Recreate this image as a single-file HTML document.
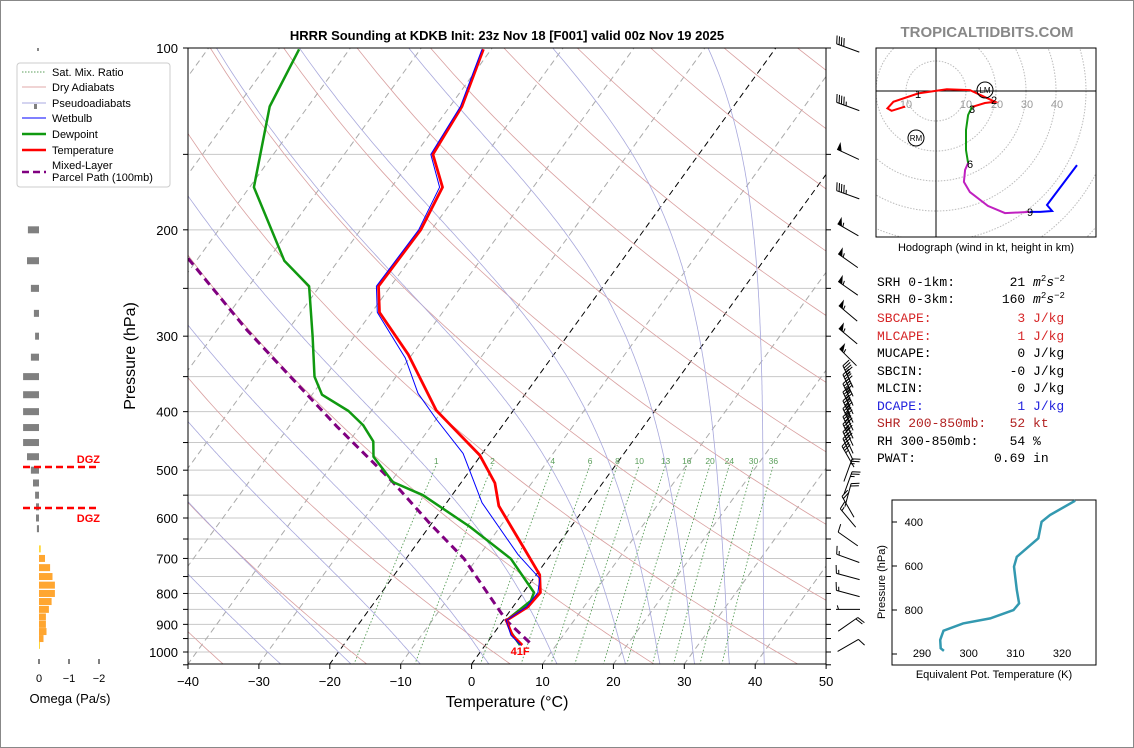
<!DOCTYPE html>
<html><head><meta charset="utf-8"><style>
html,body{margin:0;padding:0;background:#fff;}
svg{display:block;font-family:"Liberation Sans",sans-serif;}
</style></head><body>
<svg id="fig" width="1134" height="748" viewBox="0 0 1134 748" xmlns="http://www.w3.org/2000/svg">
<rect x="0.5" y="0.5" width="1133" height="747" fill="#fff" stroke="#888"/>
<defs><clipPath id="mainclip"><rect x="188" y="48" width="638" height="616"/></clipPath>
<clipPath id="hodoclip"><rect x="876" y="48" width="220" height="189"/></clipPath></defs>
<text x="507" y="40" text-anchor="middle" font-size="13" font-weight="bold">HRRR Sounding at KDKB Init: 23z Nov 18 [F001] valid 00z Nov 19 2025</text>
<text x="987" y="37" text-anchor="middle" font-size="15" font-weight="bold" fill="#888">TROPICALTIDBITS.COM</text>
<g id="bg" clip-path="url(#mainclip)"></g>
<g id="series" clip-path="url(#mainclip)"></g>
<g id="axes"></g>
<g id="barbs"></g>
<g id="omega"></g>
<g id="legend">
<rect x="17" y="63" width="153" height="124" rx="3" fill="#fff" stroke="#ccc"/>
<line x1="22" y1="72" x2="46" y2="72" stroke="#5a9e5a" stroke-dasharray="1.5,1.5"/><text x="52" y="76" font-size="11">Sat. Mix. Ratio</text>
<line x1="22" y1="87" x2="46" y2="87" stroke="#e0a8a8"/><text x="52" y="91" font-size="11">Dry Adiabats</text>
<line x1="22" y1="103" x2="46" y2="103" stroke="#a8a8e0"/><rect x="34" y="104" width="3" height="5" fill="#808080"/><text x="52" y="107" font-size="11">Pseudoadiabats</text>
<line x1="22" y1="118" x2="46" y2="118" stroke="#0000ff"/><text x="52" y="122" font-size="11">Wetbulb</text>
<line x1="22" y1="134" x2="46" y2="134" stroke="#109910" stroke-width="2.5"/><text x="52" y="138" font-size="11">Dewpoint</text>
<line x1="22" y1="150" x2="46" y2="150" stroke="#ff0000" stroke-width="2.5"/><text x="52" y="154" font-size="11">Temperature</text>
<line x1="22" y1="172" x2="46" y2="172" stroke="#800080" stroke-width="2.5" stroke-dasharray="7,4"/><text x="52" y="169" font-size="11">Mixed-Layer</text><text x="52" y="181" font-size="11">Parcel Path (100mb)</text>
</g>
<g id="hodo"></g>
<g id="stats" font-family="'Liberation Mono',monospace" font-size="13">
<text x="877" y="286" xml:space="preserve">SRH 0-1km:       21 <tspan font-style="italic">m</tspan><tspan font-size="9" dy="-5">2</tspan><tspan font-style="italic" dy="5">s</tspan><tspan font-size="9" dy="-5">−2</tspan></text>
<text x="877" y="303" xml:space="preserve">SRH 0-3km:      160 <tspan font-style="italic">m</tspan><tspan font-size="9" dy="-5">2</tspan><tspan font-style="italic" dy="5">s</tspan><tspan font-size="9" dy="-5">−2</tspan></text>
<text x="877" y="322" xml:space="preserve" fill="#d62728">SBCAPE:           3 J/kg</text>
<text x="877" y="340" xml:space="preserve" fill="#d62728">MLCAPE:           1 J/kg</text>
<text x="877" y="357" xml:space="preserve">MUCAPE:           0 J/kg</text>
<text x="877" y="375" xml:space="preserve">SBCIN:           -0 J/kg</text>
<text x="877" y="392" xml:space="preserve">MLCIN:            0 J/kg</text>
<text x="877" y="410" xml:space="preserve" fill="#2222dd">DCAPE:            1 J/kg</text>
<text x="877" y="427" xml:space="preserve" fill="#b22222">SHR 200-850mb:   52 kt</text>
<text x="877" y="445" xml:space="preserve">RH 300-850mb:    54 %</text>
<text x="877" y="462" xml:space="preserve">PWAT:          0.69 in</text>
</g>
<g id="thetae"></g>
</svg>
<script>
// ---- data ----
const tempP = [100.5,125,150,170,200,248,274,322,398,472,525,573,675,745,797,842,887,938,974];
const tempT = [-61.1,-58.3,-57.5,-52.8,-51.5,-51.7,-48.9,-40.5,-30.9,-20.2,-15.2,-12.3,-4.3,0.5,2.4,2.1,0.45,2.8,5.2];
const dewP = [100.5,125,170,225,248,300,350,375,399,421,448,475,523,550,620,701,797,823,887,929,974];
const dewT = [-87.1,-85.4,-79.4,-67.6,-61.5,-55.9,-51.5,-48.6,-43.2,-39.7,-36.6,-35.0,-29.7,-24.1,-14.3,-5.2,1.5,1.9,0.45,2.4,4.9];
const wbP = [100.5,125,150,170,200,248,274,326,373,413,469,566,690,756,797,842,887,938,974];
const wbT = [-61.3,-58.5,-57.8,-53.2,-51.8,-52.0,-49.2,-40.6,-35.2,-29.8,-22.7,-15.0,-4.6,0.9,2.05,1.9,0.45,2.6,5.0];
const parP = [223,293,423,523,609,701,887,972];
const parT = [-81.4,-65.8,-43.3,-29.7,-20.6,-11.8,0.45,6.5];
const mixW = [1,2,4,6,8,10,13,16,20,24,30,36];
const omegaP = [200,225,250,275,300,325,350,375,400,425,450,475,500,525,550,575,600,625,675,700,725,750,775,800,825,850,875,900,925,950,975];
const omegaV = [0.37,0.4,0.27,0.17,0.13,0.27,0.53,0.53,0.53,0.53,0.53,0.4,0.27,0.2,0.13,0.1,0.1,0.07,-0.06,-0.2,-0.37,-0.45,-0.53,-0.53,-0.42,-0.33,-0.23,-0.23,-0.25,-0.15,-0.02];
const windP = [100,125,150,175,200,225,250,275,300,325,350,362,375,387,400,412,425,437,450,462,475,500,525,550,575,600,650,700,750,800,850,900,975];
const windS = [40,45,50,45,55,55,55,55,55,55,45,45,45,45,45,45,40,40,40,35,35,25,25,20,20,15,10,15,15,15,5,20,10];
const windD = [290,290,295,290,300,305,305,310,310,315,335,335,335,335,335,335,335,335,335,335,330,20,20,15,330,320,305,290,285,285,270,55,60];
const hodoU = [-10.3,-14.8,-16.2,-14.2,-5.9,3.6,11.3,19.7,16.3,12,10.7,10,10,10.7,9.7,9.3,11.3,17.3,23,31.3,34.7,38.7,37,47];
const hodoV = [-5.2,-6.6,-5.8,-3.6,-0.8,0.6,0.3,-3.6,-4,-5.3,-8,-13,-19.7,-24,-26.3,-30.3,-33.7,-38.3,-40.7,-40.3,-40.3,-40,-38,-24.7];
const hodoSeg = [0,0,0,0,0,0,0,0,0,0,1,1,1,1,2,2,2,2,2,2,3,3,3,3];
const theP = [303,368,399,474,558,603,709,770,800,838,861,894,936,974,986];
const theV = [322.8,317.4,315.6,314.9,310.3,309.7,310.3,310.8,309.6,304.6,298.8,294.6,293.9,294.0,294.7];
const tTicks = [-40,-30,-20,-10,0,10,20,30,40,50];
const pTicks = [100,200,300,400,500,600,700,800,900,1000];

const NS="http://www.w3.org/2000/svg";
function mk(tag,attrs,parent){const e=document.createElementNS(NS,tag);for(const k in attrs)e.setAttribute(k,attrs[k]);if(parent)parent.appendChild(e);return e;}
const yP = p => 48 + 604*Math.log10(p/100);
const xT = (T,p) => 188 + (T+40)*7.09 + (664 - yP(p))*0.724;
function pathTP(P,T){return P.map((p,i)=>(i?'L':'M')+xT(T[i],p).toFixed(1)+','+yP(p).toFixed(1)).join('');}

const bg=document.getElementById('bg');
for(let p=150;p<=1050;p+=50){const l=mk('line',{x1:188,x2:826,y1:yP(p),y2:yP(p),stroke:'#c8c8c8','stroke-width':1},bg);

}
for(let T=-130;T<=50;T+=10){const l=mk('line',{x1:xT(T,1050),y1:yP(1050),x2:xT(T,100),y2:yP(100),stroke:(T==0||T==-20)?'#000':'#aaa','stroke-width':1,'stroke-dasharray':'6,4'},bg);

}
for(let th=235;th<=495;th+=20){let d='';for(let p=1050;p>=100;p-=10){const T=th*Math.pow(p/1000,0.286)-273.15;d+=(d?'L':'M')+xT(T,p).toFixed(1)+','+yP(p).toFixed(1);}
const l=mk('path',{d:d,fill:'none',stroke:'#d9a0a0','stroke-width':0.8},bg);

}
function es(Tc){return 6.112*Math.exp(17.67*Tc/(Tc+243.5));}
[-30,-20,-10,0,10,20,25,30,35,40].forEach(T0=>{let T=T0+273.15,p;let pts=[];
 for(p=1000;p>=100;p-=2){pts.push([p,T-273.15]);const e=es(T-273.15),rs=0.622*e/(p-e);
  const dTdp=(287*T+2.5e6*rs)/(p*(1005+2.5e6*2.5e6*rs*0.622/(287*T*T)));T-=dTdp*2;}
 const e0=es(T0),rs0=0.622*e0/(1000-e0);const dd=(287*(T0+273.15)+2.5e6*rs0)/(1000*(1005+2.5e6*2.5e6*rs0*0.622/(287*(T0+273.15)**2)));
 pts.unshift([1050,T0+dd*50]);
 const d=pts.map((q,i)=>(i?'L':'M')+xT(q[1],q[0]).toFixed(1)+','+yP(q[0]).toFixed(1)).join('');
 const l=mk('path',{d:d,fill:'none',stroke:'#a8a8dc','stroke-width':0.8},bg);
 
 });
mixW.forEach(w=>{let d='';for(let p=1050;p>=490;p-=10){const e=p*w/(622+w);const L=Math.log(e/6.112);const Td=243.5*L/(17.67-L);d+=(d?'L':'M')+xT(Td,p).toFixed(1)+','+yP(p).toFixed(1);}
 const l=mk('path',{d:d,fill:'none',stroke:'#5a9e5a','stroke-width':0.9,'stroke-dasharray':'1.5,2'},bg);
 
 
 const p=490,e=p*w/(622+w),L=Math.log(e/6.112),Td=243.5*L/(17.67-L);
 const t=mk('text',{x:xT(Td,p),y:yP(p)-1,'font-size':8.5,fill:'#5a9e5a','text-anchor':'middle'},bg);t.textContent=w;
 
 });

const se=document.getElementById('series');
let s;
s=mk('path',{d:pathTP(parP,parT),fill:'none',stroke:'#800080','stroke-width':3,'stroke-dasharray':'8,5'},se);


s=mk('path',{d:pathTP(dewP,dewT),fill:'none',stroke:'#109910','stroke-width':2.5,'stroke-linejoin':'round'},se);


s=mk('path',{d:pathTP(tempP,tempT),fill:'none',stroke:'#ff0000','stroke-width':2.8,'stroke-linejoin':'round'},se);


s=mk('path',{d:pathTP(wbP,wbT),fill:'none',stroke:'#0000ff','stroke-width':1,'stroke-linejoin':'round'},se);


const lastP=tempP[tempP.length-1],lastT=tempT[tempT.length-1];
s=mk('text',{x:xT(lastT,lastP)-2,y:yP(lastP)+10,'font-size':11,'font-weight':'bold',fill:'#ff0000','text-anchor':'middle'},se);
s.textContent=Math.round(lastT*9/5+32)+'F';



const ax=document.getElementById('axes');
mk('rect',{x:188,y:48,width:638,height:616,fill:'none',stroke:'#000','stroke-width':1},ax);
for(let p=100;p<=1050;p+=50){mk('line',{x1:183,x2:188,y1:yP(p),y2:yP(p),stroke:'#000'},ax);mk('line',{x1:826,x2:831,y1:yP(p),y2:yP(p),stroke:'#000'},ax);}
pTicks.forEach(p=>{const t=mk('text',{x:178,y:yP(p)+5,'font-size':13,'text-anchor':'end'},ax);t.textContent=p;
 
 });
tTicks.forEach(T=>{const x=188+(T+40)*7.09;mk('line',{x1:x,x2:x,y1:664,y2:669,stroke:'#000'},ax);
 const t=mk('text',{x:x,y:686,'font-size':13,'text-anchor':'middle'},ax);t.textContent=T<0?'−'+(-T):T;
 
 });
s=mk('text',{x:507,y:707,'font-size':16,'text-anchor':'middle'},ax);s.textContent='Temperature (°C)';


s=mk('text',{x:135,y:356,'font-size':16,'text-anchor':'middle',transform:'rotate(-90 135 356)'},ax);s.textContent='Pressure (hPa)';



// barbs (pivot middle)
const bb=document.getElementById('barbs');
windP.forEach((p,i)=>{const cx=848,cy=yP(p),dir=windD[i]*Math.PI/180;
 const ux=Math.sin(dir),uy=-Math.cos(dir),px=-uy,py=ux;const L=24;
 const bx=cx-ux*L/2,by=cy-uy*L/2,tx=cx+ux*L/2,ty=cy+uy*L/2;
 let d='M'+bx.toFixed(1)+','+by.toFixed(1)+'L'+tx.toFixed(1)+','+ty.toFixed(1);
 let sp=Math.round(windS[i]/5)*5,pos=0;const g=mk('g',{},bb);
 
 
 while(sp>=50){const ax1=tx-ux*pos,ay1=ty-uy*pos,ax2=tx-ux*(pos+5),ay2=ty-uy*(pos+5);
  mk('path',{d:`M${ax1},${ay1}L${ax1+px*8},${ay1+py*8}L${ax2},${ay2}Z`,fill:'#000'},g);pos+=6;sp-=50;}
 while(sp>=10){const a1=tx-ux*pos,b1=ty-uy*pos;d+=`M${a1.toFixed(1)},${b1.toFixed(1)}l${(px*8+ux*2.5).toFixed(1)},${(py*8+uy*2.5).toFixed(1)}`;pos+=2.5;sp-=10;}
 if(sp>=5){if(pos==0)pos=2.5;const a1=tx-ux*pos,b1=ty-uy*pos;d+=`M${a1.toFixed(1)},${b1.toFixed(1)}l${(px*4+ux*1.2).toFixed(1)},${(py*4+uy*1.2).toFixed(1)}`;}
 mk('path',{d:d,stroke:'#000','stroke-width':1,fill:'none'},g);});

const om=document.getElementById('omega');
const ox=v=>39-v*30;
mk('rect',{x:37,y:48,width:2,height:3,fill:'#888'},om);
omegaP.forEach((p,i)=>{const v=omegaV[i],x0=Math.min(ox(0),ox(v)),w=Math.abs(ox(v)-ox(0));
 const r=mk('rect',{x:x0,y:yP(p)-3.5,width:Math.max(w,1),height:7,fill:v>0?'#808080':(v<-0.12?'#ffa630':'#ffd83a')},om);
 
 });
[0,-1,-2].forEach(v=>{mk('line',{x1:ox(v),x2:ox(v),y1:659,y2:664,stroke:'#000'},om);
 const t=mk('text',{x:ox(v),y:682,'font-size':11,'text-anchor':'middle'},om);t.textContent=v<0?'−'+(-v):v;
 
 });
s=mk('text',{x:70,y:703,'font-size':13,'text-anchor':'middle'},om);s.textContent='Omega (Pa/s)';


[467,508].forEach(y=>mk('line',{x1:23,x2:99,y1:y,y2:y,stroke:'#ff0000','stroke-width':2.5,'stroke-dasharray':'7,4'},om));
s=mk('text',{x:100,y:463,'font-size':11,'font-weight':'bold',fill:'#ff0000','text-anchor':'end'},om);s.textContent='DGZ';


s=mk('text',{x:100,y:522,'font-size':11,'font-weight':'bold',fill:'#ff0000','text-anchor':'end'},om);s.textContent='DGZ';



const hd=document.getElementById('hodo');
const hx=u=>936+u*3,hy=v=>91-v*3;
const hc=mk('g',{'clip-path':'url(#hodoclip)'},hd);
for(let r=10;r<=80;r+=10)mk('circle',{cx:936,cy:91,r:r*3,fill:'none',stroke:'#bbb','stroke-dasharray':'1.5,1.5'},hc);
mk('line',{x1:936,x2:936,y1:48,y2:237,stroke:'#000'},hc);mk('line',{x1:876,x2:1096,y1:91,y2:91,stroke:'#000'},hc);
[[906,10],[966,10],[997,20],[1027,30],[1057,40]].forEach(a=>{const t=mk('text',{x:a[0],y:108,'font-size':11,fill:'#999','text-anchor':'middle'},hc);t.textContent=a[1];});
const segCol=['#ff0000','#109910','#c020c0','#0000ff'];
for(let sg=0;sg<4;sg++){let d='';hodoU.forEach((u,i)=>{const inSeg=hodoSeg[i]==sg||(hodoSeg[i+1]==sg&&hodoSeg[i]==sg-1);if(inSeg)d+=(d?'L':'M')+hx(u).toFixed(1)+','+hy(hodoV[i]).toFixed(1);});
 const l=mk('path',{d:d,fill:'none',stroke:segCol[sg],'stroke-width':2},hc);
 
 }
[[918,98,'1'],[994,104,'2'],[972,113,'3'],[970,168,'6'],[1030,216,'9']].forEach(a=>{const t=mk('text',{x:a[0],y:a[1],'font-size':11,'text-anchor':'middle'},hc);t.textContent=a[2];});
mk('circle',{cx:985,cy:90,r:8,fill:'none',stroke:'#000'},hc);s=mk('text',{x:985,y:93,'font-size':8,'text-anchor':'middle'},hc);s.textContent='LM';
mk('circle',{cx:916,cy:138,r:8,fill:'none',stroke:'#000'},hc);s=mk('text',{x:916,y:141,'font-size':8,'text-anchor':'middle'},hc);s.textContent='RM';
mk('rect',{x:876,y:48,width:220,height:189,fill:'none',stroke:'#000'},hd);
s=mk('text',{x:986,y:251,'font-size':11,'text-anchor':'middle'},hd);s.textContent='Hodograph (wind in kt, height in km)';



const te=document.getElementById('thetae');
const ty2=p=>500+(p-300)*0.22, tx2=v=>922+(v-290)*4.67;
mk('rect',{x:892,y:500,width:204,height:165,fill:'none',stroke:'#000'},te);
[400,600,800].forEach(p=>{mk('line',{x1:892,x2:897,y1:ty2(p),y2:ty2(p),stroke:'#000'},te);const t=mk('text',{x:923,y:ty2(p)+4,'font-size':11,'text-anchor':'end'},te);t.textContent=p;});
mk('line',{x1:892,x2:897,y1:ty2(1000),y2:ty2(1000),stroke:'#000'},te);
[290,300,310,320].forEach(v=>{const t=mk('text',{x:tx2(v),y:657,'font-size':11,'text-anchor':'middle'},te);t.textContent=v;});
s=mk('path',{d:theP.map((p,i)=>(i?'L':'M')+tx2(theV[i]).toFixed(1)+','+ty2(p).toFixed(1)).join(''),fill:'none',stroke:'#3399b0','stroke-width':2.5},te);


s=mk('text',{x:994,y:678,'font-size':11,'text-anchor':'middle'},te);s.textContent='Equivalent Pot. Temperature (K)';


s=mk('text',{x:885,y:582,'font-size':11,'text-anchor':'middle',transform:'rotate(-90 885 582)'},te);s.textContent='Pressure (hPa)';


</script>
</body></html>
